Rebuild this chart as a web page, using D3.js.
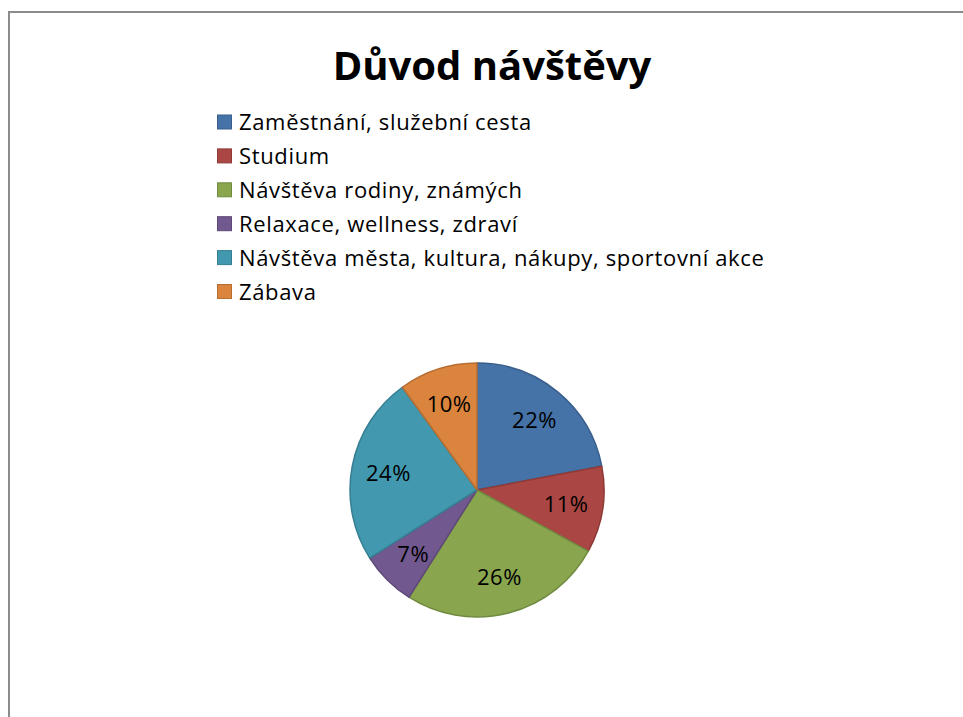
<!DOCTYPE html>
<html><head><meta charset="utf-8">
<script src="https://cdn.jsdelivr.net/npm/d3@7"></script>
<style>body{margin:0;background:#fff}svg{display:block}</style>
</head><body>
<svg id="c" width="963" height="717"></svg>
<script>
const title = "Důvod návštěvy";
const categories = ["Zaměstnání, služební cesta","Studium","Návštěva rodiny, známých","Relaxace, wellness, zdraví","Návštěva města, kultura, nákupy, sportovní akce","Zábava"];
const values = [22, 11, 26, 7, 24, 10];
const colors = ["#4572A7","#AA4643","#89A54E","#71588F","#4198AF","#DB843D"];
const strokes = ["#3A5F8C","#8E3A38","#718B41","#5E4977","#367F92","#B66E33"];

const svg = d3.select("#c");
const font = "'Open Sans', sans-serif";

svg.append("rect").attr("x",9).attr("y",12).attr("width",980).attr("height",720)
  .attr("fill","#fff").attr("stroke","#8c8c8c").attr("stroke-width",2);

svg.append("text").attr("x",492).attr("y",80).attr("text-anchor","middle")
  .attr("font-family",font).attr("font-weight","bold").attr("font-size",40).attr("fill","#000").text(title);

const leg = svg.append("g").attr("transform","translate(217,122)");
const rows = leg.selectAll("g").data(categories).join("g")
  .attr("transform",(d,i)=>`translate(0,${i*33.9})`);
rows.append("rect").attr("x",0.5).attr("y",-7).attr("width",14).attr("height",14)
  .attr("fill",(d,i)=>colors[i]).attr("stroke",(d,i)=>strokes[i]).attr("stroke-width",1);
rows.append("text").attr("x",22).attr("y",8).attr("font-family",font).attr("font-size",22)
  .attr("letter-spacing",0.65).attr("fill","#000").text(d=>d);

const cx = 477, cy = 490, r = 127;
const pie = d3.pie().sort(null).value(d=>d);
const arcs = pie(values);
const arc = d3.arc().innerRadius(0).outerRadius(r);
const labelArc = d3.arc().innerRadius(r*0.71).outerRadius(r*0.71);
const g = svg.append("g").attr("transform",`translate(${cx},${cy})`);
g.selectAll("path").data(arcs).join("path").attr("d",arc)
  .attr("fill",(d,i)=>colors[i]).attr("stroke",(d,i)=>strokes[i]).attr("stroke-width",1.5).attr("stroke-linejoin","round");
g.selectAll("text").data(arcs).join("text")
  .attr("transform",d=>`translate(${labelArc.centroid(d)})`)
  .attr("text-anchor","middle").attr("dy","0.36em")
  .attr("font-family",font).attr("font-size",22).attr("letter-spacing",0.5).attr("fill","#000")
  .text(d=>d.data+"%");
</script>
</body></html>
